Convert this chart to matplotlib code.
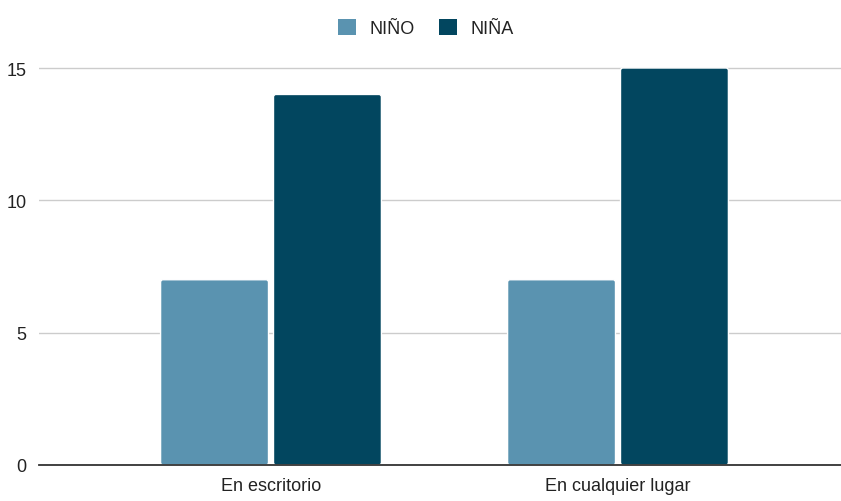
import matplotlib
matplotlib.use("Agg")
import matplotlib.pyplot as plt
from matplotlib.patches import FancyBboxPatch, Patch
import numpy as np

categories = ["En escritorio", "En cualquier lugar"]
nino = [7, 7]
nina = [14, 15]
series_names = ["NIÑO", "NIÑA"]
colors = ["#5a93b0", "#02465f"]
yticks = [0, 5, 10, 15]

plt.rcParams['font.family'] = ['Liberation Sans', 'DejaVu Sans']

W, H = 841, 502
fig = plt.figure(figsize=(W/100, H/100), dpi=100)
ytop = 15.2
px_per_unit = (466 - 69) / 15.0
top_px = 466 - ytop * px_per_unit
ax = fig.add_axes([39/W, 1 - 466/H, (W - 39)/W, (466 - top_px)/H])

x = np.arange(len(categories))
bw = 0.311
gap = 0.0072
b1 = ax.bar(x - bw/2 - gap, nino, width=bw, color=colors[0], edgecolor="white", linewidth=1.0, zorder=3)
b2 = ax.bar(x + bw/2 + gap, nina, width=bw, color=colors[1], edgecolor="white", linewidth=1.0, zorder=3)

# rounded corners
x_per_px = 1 / 347
y_per_px = 1 / px_per_unit
for bars in (b1, b2):
    for p in bars:
        bx, by = p.get_x(), p.get_y()
        w, h = p.get_width(), p.get_height()
        fb = FancyBboxPatch((bx, by), w, h,
                            boxstyle=f"round,pad=0,rounding_size={2.5 * x_per_px}",
                            mutation_aspect=y_per_px / x_per_px,
                            facecolor=p.get_facecolor(), edgecolor="white",
                            linewidth=1.0, zorder=3)
        p.set_visible(False)
        ax.add_patch(fb)

ax.set_xlim((39 - 271)/347, (841 - 271)/347)
ax.set_ylim(0, ytop)
ax.set_yticks(yticks)
ax.set_xticks(x)
ax.set_xticklabels(categories)
ax.tick_params(axis='both', length=0, labelsize=13, colors="#222222")
ax.tick_params(axis='y', pad=9)
ax.tick_params(axis='x', pad=9)
for s in ["top", "right", "left"]:
    ax.spines[s].set_visible(False)
ax.spines["bottom"].set_color("#333333")
ax.spines["bottom"].set_linewidth(1.3)
ax.spines["bottom"].set_zorder(4)
ax.yaxis.grid(True, color="#cccccc", linewidth=1.0, zorder=0)
ax.set_axisbelow(True)

handles = [Patch(facecolor=c, edgecolor="none") for c in colors]
leg = fig.legend(handles=handles, labels=series_names, loc="upper center",
                 bbox_to_anchor=(0.5065, 0.993), ncol=2, frameon=False,
                 fontsize=13, handlelength=1.0, handleheight=1.0, columnspacing=1.3,
                 handletextpad=0.75)
for t in leg.get_texts():
    t.set_color("#222222")

fig.savefig("out.png", dpi=100)
